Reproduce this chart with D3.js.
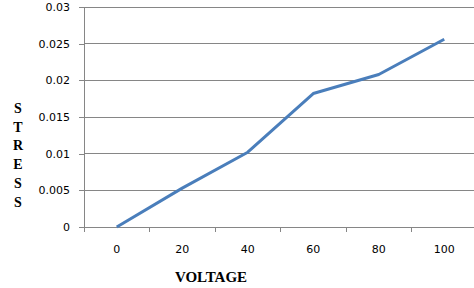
<html><head>
  <script src="https://d3js.org/d3.v7.min.js"></script>
  <style>
    body { margin: 0; background: white; }
    .tick text { font-family: 'DejaVu Sans', sans-serif; font-size: 11px; fill: #000; }
    .axis path { display: none; }
    .ttl { font-family: 'Liberation Serif', 'Times New Roman', serif; font-weight: bold; font-size: 15px; fill: #000; }
  </style>
</head>
<body>
<script>
  // chart data
  const voltage = ["0", "20", "40", "60", "80", "100"]
  const stress = [0, 0.0053, 0.0102, 0.0182, 0.0208, 0.0256]
  const yTicks = [0, 0.005, 0.01, 0.015, 0.02, 0.025, 0.03]

  const width = 474, height = 288
  const margin = {top: 7, bottom: 61, left: 84, right: -3}
  const plotW = width - margin.left - margin.right
  const plotH = height - margin.top - margin.bottom

  const svg = d3.select("body").append("svg")
                .attr("width", width).attr("height", height)

  const g = svg.append("g").attr("transform", `translate(${margin.left},${margin.top})`)

  const x = d3.scaleBand().domain(voltage).range([0, plotW])
  const y = d3.scaleLinear().domain([0, 0.03]).range([plotH, 0])

  // gridlines
  g.selectAll("line.grid").data(yTicks)
   .join("line").attr("class", "grid")
   .attr("x1", 0).attr("x2", plotW - 3)
   .attr("y1", d => y(d)).attr("y2", d => y(d))
   .attr("stroke", "#868686").attr("stroke-width", 1)
   .attr("shape-rendering", "crispEdges")

  // y axis
  const yAxis = g.append("g").attr("class", "axis")
                 .call(d3.axisLeft(y).tickValues(yTicks).tickFormat(d => String(+d.toFixed(3))).tickSize(5).tickPadding(9))
  yAxis.selectAll("line").attr("stroke", "#868686").attr("shape-rendering", "crispEdges")
  g.append("line").attr("x1", 0).attr("x2", 0).attr("y1", 0).attr("y2", plotH)
   .attr("stroke", "#868686").attr("shape-rendering", "crispEdges")

  // x axis, ticks on band boundaries
  const xAxis = g.append("g").attr("class", "axis")
                 .attr("transform", `translate(0,${plotH})`)
                 .call(d3.axisBottom(x).tickSize(0).tickPadding(18))
  g.selectAll("line.xtick").data(voltage)
   .join("line").attr("class", "xtick")
   .attr("x1", d => x(d)).attr("x2", d => x(d))
   .attr("y1", plotH).attr("y2", plotH + 5)
   .attr("stroke", "#868686").attr("shape-rendering", "crispEdges")

  // line
  const line = d3.line()
                 .x((d, i) => x(voltage[i]) + x.bandwidth() / 2)
                 .y(d => y(d))
  g.append("path").datum(stress)
   .attr("d", line)
   .attr("fill", "none")
   .attr("stroke", "#4a7ebb")
   .attr("stroke-width", 3)
   .attr("stroke-linejoin", "round")

  // titles
  svg.append("text").attr("class", "ttl")
     .attr("x", 211).attr("y", 282)
     .attr("text-anchor", "middle")
     .text("VOLTAGE")

  const letters = "STRESS".split("")
  svg.append("g").selectAll("text").data(letters)
     .join("text").attr("class", "ttl")
     .attr("x", 18).attr("y", (d, i) => 113 + i * 18.7)
     .attr("text-anchor", "middle")
     .style("font-size", "14px")
     .text(d => d)
</script>
</body>
</html>
